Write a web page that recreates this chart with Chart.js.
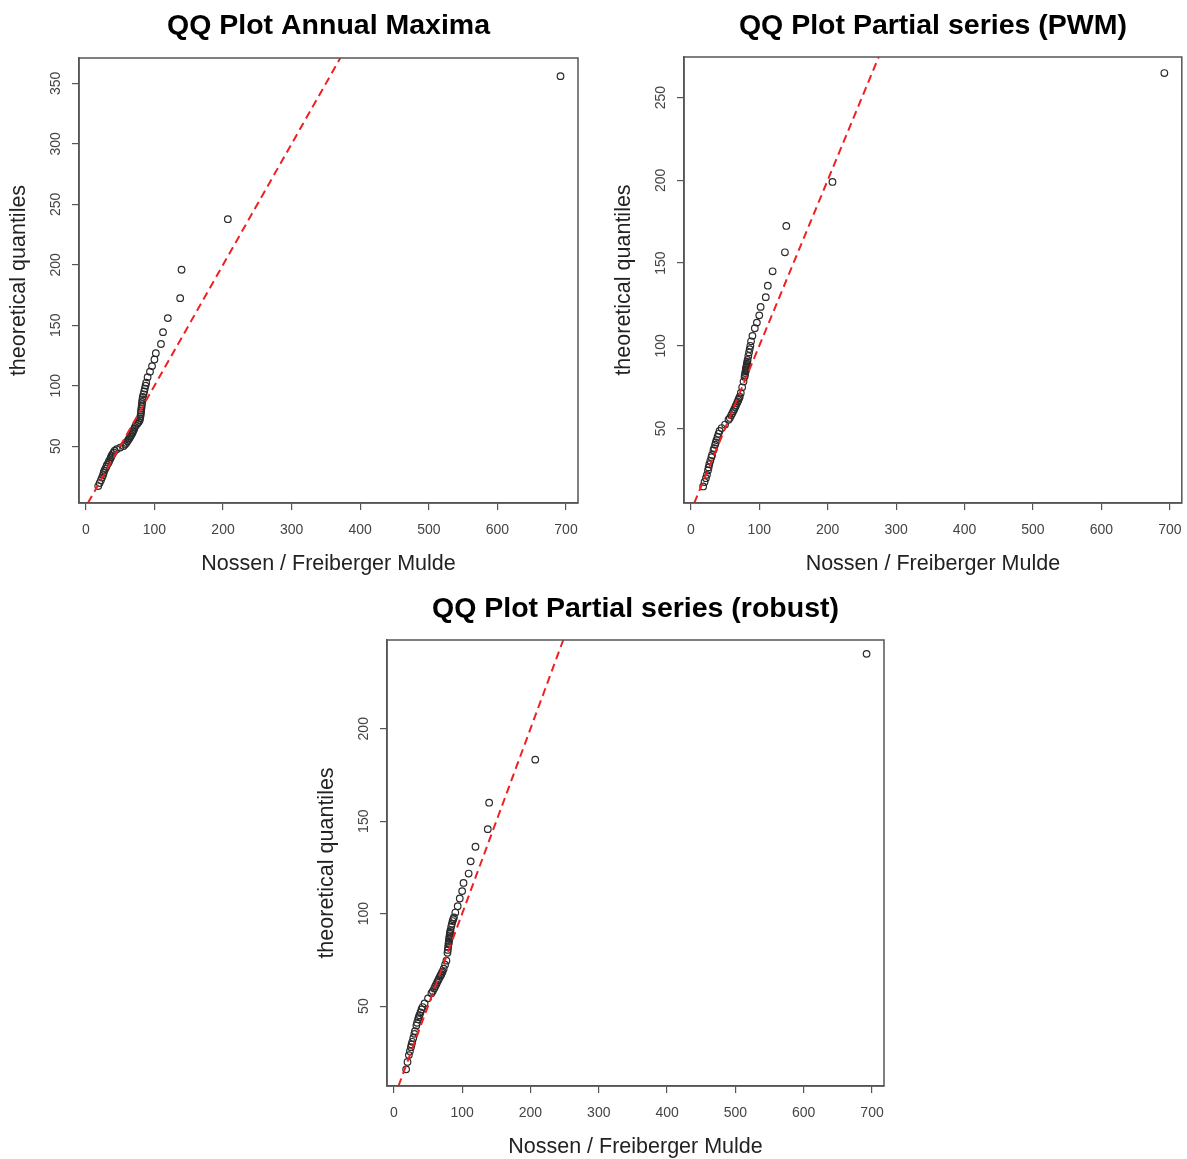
<!DOCTYPE html>
<html>
<head>
<meta charset="utf-8">
<title>QQ Plots Nossen / Freiberger Mulde</title>
<script src="https://cdn.jsdelivr.net/npm/chart.js@4.4.1/dist/chart.umd.min.js"></script>
<style>
  html, body { margin: 0; padding: 0; background: #fff; }
  body { width: 1187px; height: 1159px; position: relative; overflow: hidden; }
  canvas { position: absolute; }
</style>
</head>
<body>
<canvas id="qqAnnual" width="600" height="580" style="left:0;top:0"></canvas>
<canvas id="qqPwm" width="587" height="580" style="left:600px;top:0"></canvas>
<canvas id="qqRobust" width="600" height="579" style="left:300px;top:580px"></canvas>
<script>
// observed discharges (sorted) shared by all three QQ plots
const observed = [18, 20, 22, 23.5, 25, 26, 27, 28.5, 30, 31, 33, 34, 35.5, 36.5, 37.5, 39, 40.5, 42, 45, 50,
  55, 57, 59, 60.5, 62, 63.5, 65, 66, 67.5, 68.5, 69.5, 70.5, 71.5, 73, 75, 77, 78.5, 79, 79.5, 80,
  80.3, 80.6, 81, 81.3, 81.7, 82, 82.5, 83, 84, 85, 86, 87, 88, 90, 93.5, 96.5, 100, 102, 109.5, 112.5,
  119.5, 137.5, 139.5, 207, 692];

// theoretical quantiles for each fit
const qAnnual = [17, 19.5, 21.8, 24, 26, 28, 29.8, 31.5, 33.2, 34.8, 36.3, 37.8, 39.3, 40.7, 42.1, 43.5, 44.9, 46.2, 47.5, 48.8,
  50.1, 51.4, 52.7, 54, 55.3, 56.6, 57.9, 59.2, 60.5, 61.8, 63.1, 64.4, 65.8, 67.2, 68.6, 70, 71.5, 73, 74.5, 76.1,
  77.7, 79.4, 81.1, 82.9, 84.7, 86.6, 88.6, 90.7, 92.9, 95.2, 97.6, 100.1, 102.5, 107, 111.6, 116.2, 121.7, 126.9, 134.5, 144.3,
  155.9, 172.4, 195.9, 237.7, 356];
const qPwm = [15.0, 17.7, 20.0, 22.0, 24.7, 26.5, 28.4, 30.5, 32.6, 34.0, 36.8, 38.2, 40.2, 41.6, 43.0, 44.9, 46.8, 48.6, 50.3, 52.4,
  55.3, 56.4, 58.0, 59.2, 60.5, 61.7, 63.0, 64.0, 65.4, 66.3, 67.3, 68.3, 69.2, 71.5, 74.9, 78.4, 81.3, 82.4, 83.5, 84.6,
  85.2, 85.9, 86.8, 87.5, 88.4, 89.2, 90.3, 91.5, 93.8, 96.0, 98.0, 100.0, 102.7, 106.0, 110.6, 114.0, 118.4, 123.5, 129.4, 136.3,
  145.0, 156.5, 172.4, 199.0, 264.8];
const qRobust = [15.8, 19.8, 23.5, 25.6, 27.8, 29.3, 30.7, 32.8, 35.0, 36.5, 39.5, 41.0, 42.9, 44.0, 45.1, 46.6, 48.2, 49.5, 51.5, 54.2,
  57.0, 58.1, 59.5, 60.6, 61.7, 62.9, 64.0, 64.8, 65.9, 66.6, 67.3, 68.1, 68.8, 70.2, 72.4, 74.6, 78.8, 80.4, 82.0, 83.4,
  84.3, 85.2, 86.3, 87.2, 88.3, 89.2, 90.1, 91.1, 93.0, 94.5, 96.0, 97.0, 98.0, 100.6, 104.0, 108.2, 112.2, 116.6, 121.7, 128.3,
  136.2, 145.7, 160.0, 183.3, 240.5];

// axis ranges and ticks
const xRange = [-10, 717.5];
const xTicks = [0, 100, 200, 300, 400, 500, 600, 700];
const yRangeAnnual = [3, 371];
const yRangePwm = [5, 274.5];
const yRangeRobust = [6.8, 248];
const yTicksAnnual = [50, 100, 150, 200, 250, 300, 350];
const yTicksPwm = [50, 100, 150, 200, 250];
const yTicksRobust = [50, 100, 150, 200];

const FONT = '"Liberation Sans", Arial, Helvetica, sans-serif';
const FRAME = '#555';

// base-R look: closed box, rotated y labels, titles
const rFrame = {
  id: 'rFrame',
  afterDraw(chart, args, opts) {
    const { ctx, chartArea: a, scales: { x, y } } = chart;
    const cx = (a.left + a.right) / 2;
    const cy = (a.top + a.bottom) / 2;
    ctx.save();
    ctx.strokeStyle = FRAME;
    ctx.lineWidth = 1.5;
    ctx.strokeRect(a.left, a.top, a.right - a.left, a.bottom - a.top);

    ctx.textAlign = 'center';
    ctx.textBaseline = 'middle';
    ctx.fillStyle = '#000';
    ctx.font = 'bold 28.5px ' + FONT;
    ctx.fillText(opts.title, cx, opts.titleY);

    ctx.fillStyle = '#444';
    ctx.font = '14px ' + FONT;
    xTicks.forEach(v => ctx.fillText(String(v), x.getPixelForValue(v), a.bottom + 27));
    opts.yTicks.forEach(v => {
      ctx.save();
      ctx.translate(a.left - 23, y.getPixelForValue(v));
      ctx.rotate(-Math.PI / 2);
      ctx.fillText(String(v), 0, 0);
      ctx.restore();
    });

    ctx.fillStyle = '#222';
    ctx.font = '21.5px ' + FONT;
    ctx.fillText('Nossen / Freiberger Mulde', cx, a.bottom + 61);
    ctx.save();
    ctx.translate(a.left - 60, cy);
    ctx.rotate(-Math.PI / 2);
    ctx.fillText('theoretical quantiles', 0, 0);
    ctx.restore();
    ctx.restore();
  }
};

function makePanel(id, title, titleY, quantiles, yRange, yTicks, box) {
  const canvas = document.getElementById(id);
  const points = observed.map((v, i) => ({ x: v, y: quantiles[i] }));
  const tickMarks = {
    drawOnChartArea: false,
    drawTicks: true,
    tickLength: 7,
    color: FRAME,
    lineWidth: 1.2
  };
  return new Chart(canvas, {
    type: 'scatter',
    data: {
      datasets: [
        {
          // 1:1 reference line
          data: [{ x: yRange[0], y: yRange[0] }, { x: yRange[1], y: yRange[1] }],
          showLine: true,
          borderColor: '#f02020',
          borderWidth: 2,
          borderDash: [8, 5],
          pointRadius: 0
        },
        {
          data: points,
          pointStyle: 'circle',
          pointRadius: 3.3,
          borderColor: '#2a2a2a',
          borderWidth: 1.2,
          backgroundColor: 'rgba(0,0,0,0)'
        }
      ]
    },
    options: {
      responsive: false,
      animation: false,
      events: [],
      layout: {
        padding: { left: 0, top: box.top, right: canvas.width - box.right, bottom: 0 }
      },
      scales: {
        x: {
          type: 'linear',
          min: xRange[0],
          max: xRange[1],
          afterBuildTicks: s => { s.ticks = xTicks.map(v => ({ value: v })); },
          afterFit: s => { s.height = canvas.height - box.bottom; },
          ticks: { display: false },
          grid: tickMarks,
          border: { display: true, color: FRAME, width: 1.5 }
        },
        y: {
          type: 'linear',
          min: yRange[0],
          max: yRange[1],
          afterBuildTicks: s => { s.ticks = yTicks.map(v => ({ value: v })); },
          afterFit: s => { s.width = box.left; },
          ticks: { display: false },
          grid: tickMarks,
          border: { display: true, color: FRAME, width: 1.5 }
        }
      },
      plugins: {
        legend: { display: false },
        tooltip: { enabled: false },
        rFrame: { title, titleY, yTicks }
      }
    },
    plugins: [rFrame]
  });
}

makePanel('qqAnnual', 'QQ Plot Annual Maxima', 26, qAnnual, yRangeAnnual, yTicksAnnual,
  { left: 79, top: 58, right: 578, bottom: 503 });
makePanel('qqPwm', 'QQ Plot Partial series (PWM)', 26, qPwm, yRangePwm, yTicksPwm,
  { left: 84, top: 57, right: 583, bottom: 503 });
makePanel('qqRobust', 'QQ Plot Partial series (robust)', 29, qRobust, yRangeRobust, yTicksRobust,
  { left: 87, top: 60, right: 584, bottom: 506 });
</script>
</body>
</html>
